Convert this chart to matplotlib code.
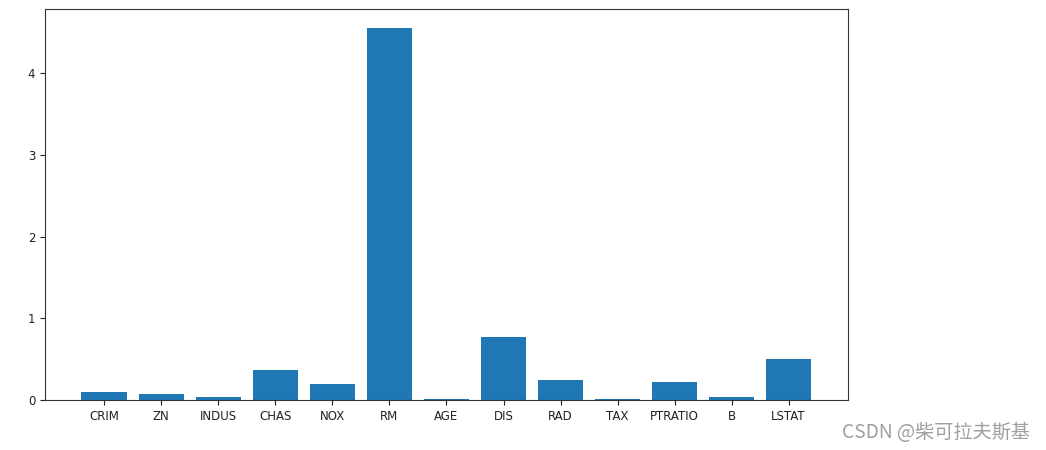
import matplotlib
matplotlib.use('Agg')
import matplotlib.pyplot as plt

features = ['CRIM', 'ZN', 'INDUS', 'CHAS', 'NOX', 'RM', 'AGE',
            'DIS', 'RAD', 'TAX', 'PTRATIO', 'B', 'LSTAT']
importance = [0.093, 0.077, 0.032, 0.37, 0.195, 4.56, 0.016,
              0.77, 0.24, 0.016, 0.223, 0.032, 0.50]

plt.rcParams['font.family'] = ['DejaVu Sans', 'Noto Sans CJK SC']

fig = plt.figure(figsize=(10.46, 4.5), dpi=100)
ax = fig.add_axes([45 / 1046, 50 / 450, 803 / 1046, 391 / 450])

ax.bar(features, importance, color='#1f77b4')
ax.tick_params(labelsize=8.5, colors='#222222')

for side in ['top', 'right', 'bottom', 'left']:
    ax.spines[side].set_color('#333333')

# watermark
fig.text(1030 / 1046, 1 - 432 / 450, 'CSDN @柴可拉夫斯基',
         ha='right', va='center', fontsize=13.8, color='#a0a0a0',
         family=['Noto Sans CJK SC', 'DejaVu Sans'])

fig.savefig('out.png', dpi=100)
